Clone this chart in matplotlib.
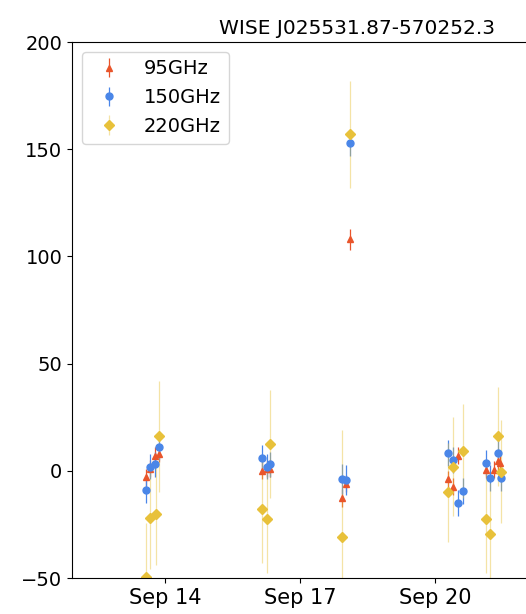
import datetime as dt
import matplotlib
matplotlib.use("Agg")
import matplotlib.pyplot as plt
import matplotlib.dates as mdates

title = "WISE J025531.87-570252.3"
base = dt.datetime(2019, 9, 14)

# 95 GHz: time offset (days from Sep 14), flux, error
t95 = [-0.42, -0.33, -0.22, -0.13, 2.16, 2.27, 2.33, 3.93, 4.02, 4.11,
       6.29, 6.40, 6.51, 7.13, 7.31, 7.40, 7.45]
f95 = [-3, 1, 7, 8, 0, 1, 1, -12.7, -6, 108,
       -4, -7.5, 7, 0.5, 0.5, 4.5, 3.5]
e95 = [4, 4, 4, 4, 4, 4, 4, 4, 4, 5,
       4, 4, 4, 4, 4, 4, 4]

t150 = [-0.42, -0.33, -0.22, -0.13, 2.16, 2.27, 2.33, 3.93, 4.02, 4.11,
        6.29, 6.40, 6.51, 6.62, 7.13, 7.22, 7.40, 7.47]
f150 = [-9, 2, 3, 11, 6, 2, 3, -4, -4.5, 153,
        8.3, 5, -15, -9.5, 3.5, -3.3, 8.3, -3.3]
e150 = [6, 6, 6, 6, 6, 6, 6, 7, 7, 6,
        6, 6, 6, 6, 6, 6, 6, 6]

t220 = [-0.42, -0.33, -0.20, -0.13, 2.16, 2.27, 2.33, 3.93, 4.11,
        6.29, 6.40, 6.62, 7.13, 7.22, 7.40, 7.47]
f220 = [-49.5, -22, -20, 16, -18, -22.5, 12.5, -31, 157,
        -10, 2, 9.3, -22.5, -29.5, 16, -0.5]
e220 = [25, 24, 24, 26, 25, 25, 25, 50, 25,
        23, 23, 22, 25, 24, 23, 24]

c95 = "#e9552b"
c150 = "#4a86e8"
c220 = "#e8c13a"

fig = plt.figure(figsize=(5.26, 6.14), dpi=100)
ax = fig.add_axes([72 / 526, 36 / 614, 570 / 526, 536 / 614])

def todates(ts):
    return [base + dt.timedelta(days=t) for t in ts]

ax.errorbar(todates(t95), f95, yerr=e95, fmt="^", color=c95, ms=5,
            elinewidth=0.9, ecolor=c95, label="95GHz")
ax.errorbar(todates(t150), f150, yerr=e150, fmt="o", color=c150, ms=5,
            elinewidth=0.9, ecolor=c150, label="150GHz")
ax.errorbar(todates(t220), f220, yerr=e220, fmt="D", color=c220, ms=5,
            elinewidth=0.9, ecolor=(0.91, 0.76, 0.23, 0.45), label="220GHz")

ax.set_ylim(-50, 200)
ax.set_xlim(base + dt.timedelta(days=-2.07), base + dt.timedelta(days=10.6))
ax.xaxis.set_major_locator(mdates.DayLocator(bymonthday=[14, 17, 20]))
ax.xaxis.set_major_formatter(mdates.DateFormatter("%b %d"))
ax.set_yticks([-50, 0, 50, 100, 150, 200])
ax.tick_params(axis="y", labelsize=14)
ax.tick_params(axis="x", labelsize=15)
ax.set_title(title, fontsize=14.5)
ax.legend(loc="upper left", fontsize=14, bbox_to_anchor=(0.0, 1.0))

fig.savefig("out.png", dpi=100)
